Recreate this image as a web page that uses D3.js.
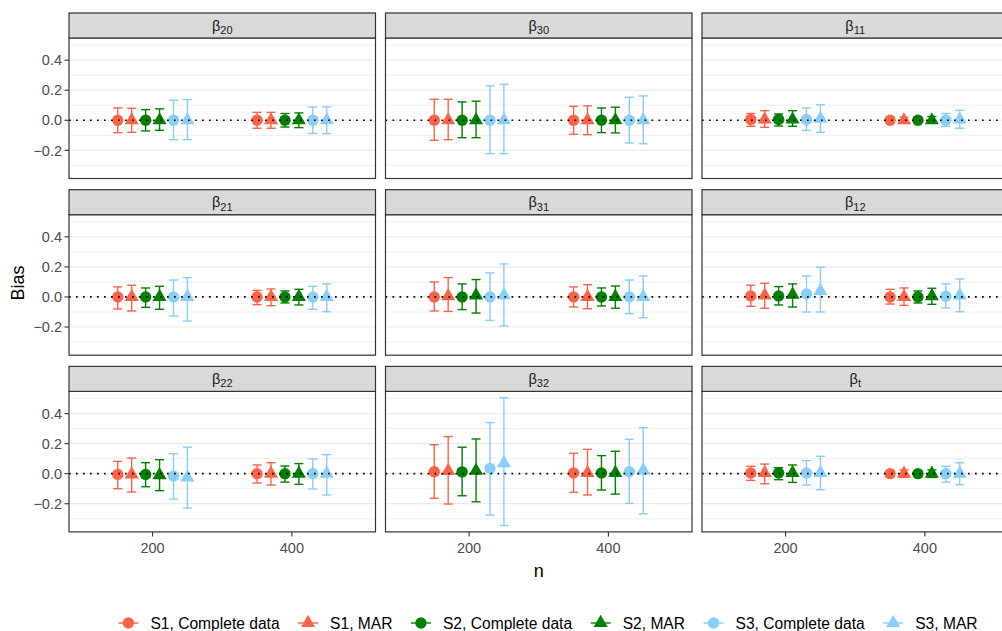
<!DOCTYPE html>
<html><head><meta charset="utf-8">
<script src="https://cdn.jsdelivr.net/npm/d3@7"></script>
<style>
body{margin:0;background:#fff;}
text{font-family:"Liberation Sans",Arial,Helvetica,sans-serif;}
</style>
</head><body>
<svg id="chart" width="1002" height="631"></svg>
<script>
// ---------- DATA ----------
const facetSymbol = "β";
const facetSubscripts = ["20","30","11","21","31","12","22","32","t"];
const sampleSizes = [200, 400];
const seriesNames = ["S1, Complete data","S1, MAR","S2, Complete data","S2, MAR","S3, Complete data","S3, MAR"];
const seriesColors = ["#FF6347","#FF6347","#008000","#008000","#87CEFA","#87CEFA"];
const seriesShapes = ["circle","triangle","circle","triangle","circle","triangle"];
const dodgeOffsets = [-50,-30,-10,10,30,50];
// each row: one facet; first 6 values n=200 (series order), next 6 values n=400
const biasEstimate = [
  [0,0,0,0,0,0,            0,0,0,0,0,0],
  [0,0,0,0,0,0,            0,0,0,0,0,0],
  [0.005,0.005,0.005,0.005,0.005,0.01,   0,0,0,0,0,0.005],
  [0,0,0,0,0,0,            0,0,0,0,0,0],
  [0,0.005,0,0.01,0,0.01,  0,0,0,0,0,0],
  [0.007,0.01,0.007,0.015,0.02,0.04,     0,0,0,0.005,0.005,0.01],
  [-0.005,-0.005,-0.005,-0.01,-0.015,-0.025, 0,0,0,0,0,0],
  [0.013,0.018,0.012,0.02,0.035,0.07,    0.005,0.005,0.005,0.005,0.013,0.022],
  [0.005,0.005,0.005,0.005,0.005,0.005,  0,0,0,0,0,0]
];
const biasLower = [
  [-0.082,-0.080,-0.071,-0.067,-0.129,-0.129, -0.053,-0.053,-0.045,-0.049,-0.088,-0.089],
  [-0.133,-0.129,-0.116,-0.116,-0.222,-0.222, -0.093,-0.096,-0.082,-0.084,-0.151,-0.156],
  [-0.040,-0.047,-0.038,-0.040,-0.067,-0.080, -0.015,-0.015,-0.015,-0.020,-0.040,-0.053],
  [-0.080,-0.093,-0.069,-0.082,-0.127,-0.160, -0.051,-0.058,-0.040,-0.053,-0.082,-0.098],
  [-0.093,-0.096,-0.084,-0.107,-0.156,-0.193, -0.067,-0.078,-0.060,-0.075,-0.111,-0.138],
  [-0.062,-0.075,-0.053,-0.067,-0.100,-0.100, -0.047,-0.056,-0.040,-0.049,-0.073,-0.098],
  [-0.100,-0.122,-0.087,-0.113,-0.169,-0.229, -0.062,-0.076,-0.056,-0.071,-0.102,-0.142],
  [-0.164,-0.202,-0.147,-0.187,-0.276,-0.345, -0.124,-0.142,-0.109,-0.136,-0.198,-0.267],
  [-0.045,-0.067,-0.040,-0.058,-0.076,-0.107, -0.020,-0.025,-0.020,-0.025,-0.056,-0.073]
];
const biasUpper = [
  [0.082,0.080,0.071,0.076,0.133,0.138, 0.053,0.053,0.045,0.049,0.088,0.089],
  [0.140,0.140,0.122,0.127,0.229,0.240, 0.093,0.096,0.082,0.087,0.153,0.162],
  [0.045,0.064,0.042,0.064,0.082,0.104, 0.020,0.020,0.020,0.025,0.045,0.067],
  [0.067,0.078,0.060,0.071,0.113,0.129, 0.044,0.053,0.040,0.051,0.071,0.087],
  [0.100,0.129,0.087,0.116,0.160,0.220, 0.067,0.082,0.060,0.073,0.113,0.140],
  [0.078,0.091,0.069,0.087,0.140,0.198, 0.051,0.060,0.040,0.058,0.087,0.120],
  [0.082,0.104,0.073,0.093,0.133,0.176, 0.058,0.073,0.051,0.067,0.098,0.127],
  [0.193,0.247,0.176,0.231,0.340,0.505, 0.136,0.162,0.120,0.149,0.229,0.307],
  [0.049,0.064,0.040,0.058,0.087,0.116, 0.020,0.025,0.020,0.025,0.049,0.073]
];
const yTickValues = [-0.2, 0, 0.2, 0.4];
const yTickLabels = ["\u22120.2","0.0","0.2","0.4"];
const yMinorValues = [-0.3,-0.1,0.1,0.3,0.5];
const xTickValues = [200, 400];
const xTitle = "n";
const yTitle = "Bias";

// ---------- LAYOUT ----------
const svg = d3.select("#chart");
const nCols = 3;
const panelLeft0 = 69, colPitch = 316.5, panelW = 306.5;
const stripTop0 = 13, rowPitch = 176.7, stripH = 25, panelH = 140.5;
const capHalf = 6.5; // data units of n

// Build long data
const records = [];
facetSubscripts.forEach((sub, f) => {
  sampleSizes.forEach((n, ni) => {
    seriesNames.forEach((s, si) => {
      const k = ni * seriesNames.length + si;
      records.push({facet: f, n, series: si, x: n + dodgeOffsets[si],
        est: biasEstimate[f][k], lo: biasLower[f][k], hi: biasUpper[f][k]});
    });
  });
});

// scales with ggplot-like 5% expansion
const xData = [d3.min(sampleSizes) - 100, d3.max(sampleSizes) + 100];
const xPad = (xData[1] - xData[0]) * 0.05;
const x = d3.scaleLinear().domain([xData[0] - xPad, xData[1] + xPad]).range([0, panelW]);
const yLo = d3.min(records, d => d.lo), yHi = d3.max(records, d => d.hi);
const yPad = (yHi - yLo) * 0.05;
const y = d3.scaleLinear().domain([yLo - yPad, yHi + yPad]).range([panelH, 0]);

const symCircle = d3.symbol().type(d3.symbolCircle).size(Math.PI * 5.7 * 5.7);
const symTri = d3.symbol().type(d3.symbolTriangle).size(86);
const shapePath = s => s === "circle" ? symCircle() : symTri();

facetSubscripts.forEach((sub, f) => {
  const col = f % nCols, row = Math.floor(f / nCols);
  const px = panelLeft0 + col * colPitch;
  const sy = stripTop0 + row * rowPitch;
  const py = sy + stripH;
  const g = svg.append("g").attr("transform", `translate(${px},${py})`);

  // grid
  g.selectAll(".minor").data(yMinorValues).join("line")
    .attr("x1", 0).attr("x2", panelW)
    .attr("y1", d => y(d)).attr("y2", d => y(d))
    .attr("stroke", "#EBEBEB").attr("stroke-width", 0.8);
  g.selectAll(".major").data(yTickValues).join("line")
    .attr("x1", 0).attr("x2", panelW)
    .attr("y1", d => y(d)).attr("y2", d => y(d))
    .attr("stroke", "#EBEBEB").attr("stroke-width", 1.2);

  const recs = records.filter(r => r.facet === f);
  // error bars
  const eb = g.selectAll(".eb").data(recs).join("g")
    .attr("stroke", d => seriesColors[d.series]).attr("stroke-width", 1.4).attr("fill", "none");
  eb.append("line").attr("x1", d => x(d.x)).attr("x2", d => x(d.x))
    .attr("y1", d => y(d.lo)).attr("y2", d => y(d.hi));
  eb.append("line").attr("x1", d => x(d.x - capHalf)).attr("x2", d => x(d.x + capHalf))
    .attr("y1", d => y(d.lo)).attr("y2", d => y(d.lo));
  eb.append("line").attr("x1", d => x(d.x - capHalf)).attr("x2", d => x(d.x + capHalf))
    .attr("y1", d => y(d.hi)).attr("y2", d => y(d.hi));
  // points
  g.selectAll(".pt").data(recs).join("path")
    .attr("transform", d => `translate(${x(d.x)},${y(d.est)})`)
    .attr("d", d => shapePath(seriesShapes[d.series]))
    .attr("fill", d => seriesColors[d.series]);
  // zero reference line
  g.append("line").attr("x1", 0).attr("x2", panelW)
    .attr("y1", y(0)).attr("y2", y(0))
    .attr("stroke", "#000").attr("stroke-width", 1.7).attr("stroke-dasharray", "1.7 5.3");
  // border
  g.append("rect").attr("x", 0).attr("y", 0).attr("width", panelW).attr("height", panelH)
    .attr("fill", "none").attr("stroke", "#333333").attr("stroke-width", 1.2);

  // strip
  svg.append("rect").attr("x", px).attr("y", sy).attr("width", panelW).attr("height", stripH)
    .attr("fill", "#D9D9D9").attr("stroke", "#333333").attr("stroke-width", 1.2);
  const st = svg.append("text").attr("x", px + panelW / 2).attr("y", sy + 17.5)
    .attr("text-anchor", "middle").attr("fill", "#1A1A1A").style("font-size", "14.5px");
  st.append("tspan").text(facetSymbol);
  st.append("tspan").attr("dy", 3.5).style("font-size", "11px").text(sub);

  // y axis on first column
  if (col === 0) {
    const ya = g.append("g");
    yTickValues.forEach((v, i) => {
      ya.append("line").attr("x1", -4.5).attr("x2", 0).attr("y1", y(v)).attr("y2", y(v))
        .attr("stroke", "#333333").attr("stroke-width", 1.1);
      ya.append("text").attr("x", -7).attr("y", y(v)).attr("dy", "0.36em")
        .attr("text-anchor", "end").attr("fill", "#4D4D4D").style("font-size", "14.5px")
        .text(yTickLabels[i]);
    });
  }
  // x axis on bottom row
  if (row === 2) {
    const xa = g.append("g").attr("transform", `translate(0,${panelH})`);
    xTickValues.forEach(v => {
      xa.append("line").attr("x1", x(v)).attr("x2", x(v)).attr("y1", 0).attr("y2", 4.5)
        .attr("stroke", "#333333").attr("stroke-width", 1.1);
      xa.append("text").attr("x", x(v)).attr("y", 15.5).attr("dy", "0.36em")
        .attr("text-anchor", "middle").attr("fill", "#4D4D4D").style("font-size", "14.5px")
        .text(v);
    });
  }
});

// axis titles
const plotLeft = panelLeft0, plotRight = panelLeft0 + 2 * colPitch + panelW;
svg.append("text").attr("x", (plotLeft + plotRight) / 2).attr("y", 577)
  .attr("text-anchor", "middle").attr("fill", "#000").style("font-size", "18px").text(xTitle);
svg.append("text").attr("transform", `translate(24,283) rotate(-90)`)
  .attr("text-anchor", "middle").attr("fill", "#000").style("font-size", "18px").text(yTitle);

// legend
const legend = svg.append("g");
const keyW = 22, textGap = 11, itemGap = 17.5, legendY = 623;
let cursor = 0;
seriesNames.forEach((name, i) => {
  const ig = legend.append("g").attr("transform", `translate(${cursor},0)`);
  ig.append("line").attr("x1", 1).attr("x2", keyW - 1).attr("y1", legendY).attr("y2", legendY)
    .attr("stroke", seriesColors[i]).attr("stroke-width", 1.4);
  ig.append("path").attr("transform", `translate(${keyW / 2},${legendY})`)
    .attr("d", shapePath(seriesShapes[i])).attr("fill", seriesColors[i]);
  const t = ig.append("text").attr("x", keyW + textGap).attr("y", legendY).attr("dy", "0.36em")
    .attr("fill", "#000").style("font-size", "15.6px").text(name);
  cursor += keyW + textGap + t.node().getComputedTextLength() + itemGap;
});
const legendW = cursor - itemGap;
legend.attr("transform", `translate(${547.5 - legendW / 2},0)`);
</script>
</body></html>
